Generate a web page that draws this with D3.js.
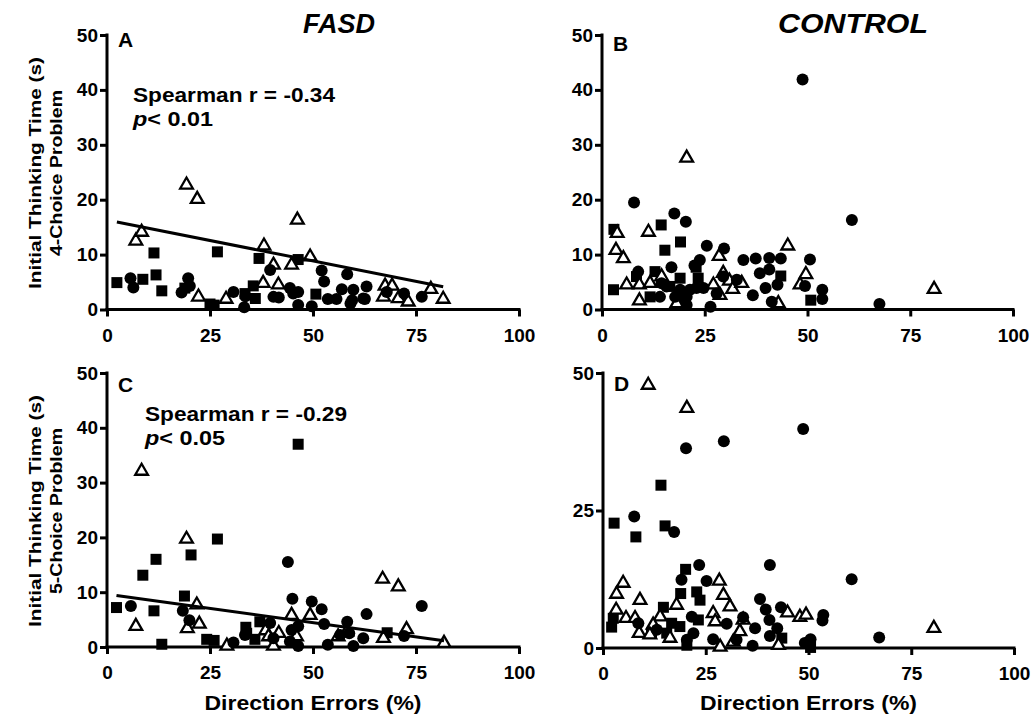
<!DOCTYPE html>
<html>
<head>
<meta charset="utf-8">
<script src="https://cdn.jsdelivr.net/npm/d3@7"></script>
<style>
  body { margin: 0; background: #fff; }
  svg text { font-family: "Liberation Sans", Arial, sans-serif; font-weight: bold; fill: #000; }
</style>
</head>
<body>
<svg id="chart" width="1033" height="719"></svg>
<script>
"use strict";

// ---- data: [direction errors %, thinking time s] ----
const aSquares = [[2.4,4.9],[8.7,5.5],[11.4,10.3],[11.9,6.3],[13.3,3.4],[26.8,10.5],[18.9,3.9],[25,1.0],[26,0.8],
  [33.5,2.9],[35.5,4.3],[36,2.0],[36.9,9.3],[46.4,9.1],[50.7,2.8]];
const aCircles = [[5.7,5.7],[6.4,4.0],[18.1,3.1],[19.7,5.7],[20.1,4.3],[30.7,3.2],[33.3,0.4],[33.6,2.4],[39.6,7.2],
  [40.4,2.3],[41.7,2.2],[44.4,3.9],[45.2,2.9],[46.4,3.2],[46.4,0.8],[49.7,0.6],[52.1,7.1],[52.7,5.1],[53.6,1.9],
  [55.7,1.9],[57,3.7],[58.3,6.4],[59.1,1.1],[59.8,3.6],[59.5,1.7],[62.2,2.0],[62.6,1.9],[63,4.2],[67.9,3.2],
  [72.1,2.9],[76.4,2.3]];
const aTriangles = [[19.3,22.7],[21.9,20.1],[7.0,12.5],[8.4,14.1],[46.2,16.3],[38.1,11.6],[40.4,8.1],[44.8,8.1],
  [49.3,9.6],[37.9,4.8],[41.6,4.5],[22.2,2.3],[28.9,1.9],[67.1,2.3],[67.5,4.3],[69.2,4.3],[70.7,2.0],[73.1,1.4],
  [78.6,3.7],[81.6,1.9]];

const bSquares = [[2.9,14.6],[14.4,15.4],[19.1,12.3],[15.3,10.8],[2.8,3.6],[12.9,6.9],[8.4,6.0],[19.0,5.7],[22.9,7.7],
  [23.4,5.7],[11.7,2.3],[43.5,6.1],[50.8,1.7],[16.5,4.2],[19.0,2.9],[20.2,1.4]];
const bCircles = [[48.8,41.9],[60.8,16.3],[7.8,19.5],[17.6,17.5],[20.4,16.0],[25.5,11.6],[29.7,11.1],[23.8,9.0],
  [34.4,9.0],[37.4,9.3],[40.7,9.4],[43.5,9.3],[50.6,9.1],[38.4,6.6],[40.7,7.3],[42.7,4.5],[39.8,3.9],[36.7,2.6],
  [41.3,1.4],[49.4,4.3],[53.6,3.6],[53.6,1.9],[67.5,1.0],[26.4,0.5],[8.8,6.9],[16.9,7.7],[22.5,8.0],[29.5,6.0],
  [32.8,5.4],[14.1,2.3],[15.7,4.2],[17.8,2.3],[19.0,3.6],[20.6,2.3],[21.4,3.6],[23.0,3.9],[24.7,3.9],[20.6,0.8],
  [14.5,4.8],[27.9,2.9]];
const bTriangles = [[20.6,27.6],[3.7,13.9],[11.3,14.1],[3.4,10.8],[5.2,9.3],[45.2,11.6],[28.5,9.7],[49.6,6.4],
  [48.2,4.5],[80.8,3.7],[6.0,4.5],[9.1,4.5],[11.7,4.8],[9.1,1.6],[27.1,4.5],[28.7,2.6],[29.5,6.6],[31.0,5.2],
  [31.8,3.7],[34.0,4.8],[42.9,1.1],[14.5,6.0],[18.2,1.1]];

const cSquares = [[46.4,37.0],[26.8,19.7],[20.4,16.8],[11.9,16.0],[8.7,13.1],[18.8,9.3],[2.3,7.2],[11.4,6.6],
  [13.3,0.5],[24.2,1.4],[26,1.2],[33.7,3.6],[35.9,1.4],[37.1,4.6],[33.9,2.5],[68.0,2.6]];
const cCircles = [[43.9,15.5],[5.8,7.5],[18.4,6.6],[20.0,4.9],[45.0,8.8],[49.7,8.3],[52.1,6.9],[63.0,6.0],[76.4,7.5],
  [58.3,4.6],[52.7,4.2],[39.6,4.4],[46.4,3.8],[44.8,3.1],[30.7,0.8],[33.5,2.2],[62.2,1.6],[72.1,2.0],[53.6,0.4],
  [59.8,0.2],[46.4,0.2],[58.8,2.5],[56.6,2.2],[44.4,1.0],[40.4,1.6]];
const cTriangles = [[8.4,32.1],[19.3,19.7],[7.0,3.8],[21.8,7.7],[22.4,4.2],[19.5,3.4],[66.9,12.4],[70.7,11.0],
  [44.8,5.8],[49.3,5.8],[67.1,1.6],[72.7,3.2],[81.8,0.7],[29.1,0.2],[38.5,3.0],[39.2,1.9],[41.7,2.5],[46.0,1.9],
  [40.4,0.2],[56.1,1.9],[58.2,2.8]];

const dSquares = [[14.1,29.6],[2.7,22.7],[15.1,22.2],[8.0,20.2],[20.1,14.3],[18.9,9.9],[22.8,10.2],[23.6,8.7],
  [14.7,7.4],[23.2,5.1],[2.5,5.4],[2.1,3.8],[16.7,4.5],[18.7,3.9],[11.8,2.7],[15.5,2.7],[20.4,0.5],[43.5,1.8],
  [50.5,0.1]];
const dCircles = [[48.7,39.8],[29.4,37.6],[20.2,36.3],[7.6,23.9],[17.3,21.1],[40.6,15.1],[23.4,15.1],[60.5,12.5],
  [19.1,12.4],[25.2,12.2],[38.2,8.9],[39.6,7.0],[43.3,7.4],[40.5,5.1],[42.4,3.6],[40.6,2.2],[37.0,3.6],[36.4,0.4],
  [34.1,5.6],[30.1,4.4],[26.8,1.6],[32.5,1.5],[53.6,6.0],[53.4,5.0],[50.5,1.6],[49.1,0.9],[67.2,1.9],[8.6,4.5],
  [21.6,5.7],[20.4,1.5],[22.0,2.7],[13.1,3.3]];
const dTriangles = [[11.0,47.8],[20.4,43.6],[4.9,11.8],[3.3,9.8],[9.0,8.7],[3.2,6.9],[5.6,5.4],[7.8,5.4],[8.8,2.7],
  [13.9,5.7],[17.9,7.8],[28.3,12.2],[29.3,9.6],[30.9,7.5],[26.8,6.3],[27.3,4.8],[33.3,3.0],[31.7,1.1],[28.5,0.2],
  [44.9,6.4],[47.9,5.6],[49.4,6.0],[80.5,3.6],[42.7,0.5],[12.2,4.2],[11.4,2.4],[16.3,1.8],[34.1,5.1]];

// fitted lines (intercept, slope) for the FASD panels
const fitA = [16.3, -0.149];
const fitC = [9.65, -0.104];

const xTicks = [0, 25, 50, 75, 100];
const yTicks10 = [0, 10, 20, 30, 40, 50];
const yTicks25 = [0, 25, 50];

const panels = [
  {letter: "A", x0: 107, x1: 519, yb: 309.5, yt: 35, ly: 47, sq: aSquares, ci: aCircles, tr: aTriangles, yTicks: yTicks10,
   fit: fitA, stat: ["Spearman r = -0.34", "0.01"], sx: 133, sy: 102},
  {letter: "B", x0: 602, x1: 1013, yb: 309.5, yt: 35, ly: 51, sq: bSquares, ci: bCircles, tr: bTriangles, yTicks: yTicks10},
  {letter: "C", x0: 107, x1: 519, yb: 647, yt: 373, ly: 392, sq: cSquares, ci: cCircles, tr: cTriangles, yTicks: yTicks10,
   fit: fitC, stat: ["Spearman r = -0.29", "0.05"], sx: 145, sy: 421, xlab: true},
  {letter: "D", x0: 603, x1: 1014, yb: 648, yt: 373, ly: 391, sq: dSquares, ci: dCircles, tr: dTriangles, yTicks: yTicks25,
   xlab: true}
];

const svg = d3.select("#chart");

// text stretched to the measured width (the source font is wide)
function label(sel, txt, size, len) {
  return sel.append("text").style("font-size", size + "px")
    .attr("textLength", len).attr("lengthAdjust", "spacingAndGlyphs").text(txt);
}

panels.forEach(p => {
  const x = d3.scaleLinear().domain([0, 100]).range([p.x0, p.x1]);
  const y = d3.scaleLinear().domain([0, 50]).range([p.yb, p.yt]);
  const g = svg.append("g");

  // axes
  const xa = g.append("g").attr("transform", `translate(0,${p.yb})`)
    .call(d3.axisBottom(x).tickValues(xTicks).tickSize(7).tickSizeOuter(0).tickPadding(12));
  const ya = g.append("g").attr("transform", `translate(${p.x0},0)`)
    .call(d3.axisLeft(y).tickValues(p.yTicks).tickSize(7).tickSizeOuter(0).tickPadding(2));
  [xa, ya].forEach(a => {
    a.select(".domain").attr("stroke-width", 3).attr("stroke", "#000");
    a.selectAll(".tick line").attr("stroke-width", 3).attr("stroke", "#000");
    a.selectAll(".tick text").style("font-size", "19px").style("font-family", "Liberation Sans, Arial, sans-serif")
      .style("font-weight", "bold").attr("fill", "#000");
  });
  xa.select(".domain").attr("d", `M${p.x0 - 1.5},0H${p.x1 + 1.5}`);
  ya.select(".domain").attr("d", `M0,${p.yb + 1.5}V${p.yt - 1.5}`);

  // points
  const sym = (type, size) => d3.symbol().type(type).size(size)();
  g.selectAll(".sq").data(p.sq).enter().append("path")
    .attr("d", sym(d3.symbolSquare, 121))
    .attr("transform", d => `translate(${x(d[0])},${y(d[1])})`).attr("fill", "#000");
  g.selectAll(".tr").data(p.tr).enter().append("path")
    .attr("d", sym(d3.symbolTriangle, 70))
    .attr("transform", d => `translate(${x(d[0])},${y(d[1])})`)
    .attr("fill", "#fff").attr("stroke", "#000").attr("stroke-width", 2.3);
  g.selectAll(".ci").data(p.ci).enter().append("circle")
    .attr("cx", d => x(d[0])).attr("cy", d => y(d[1])).attr("r", 6).attr("fill", "#000");

  // regression line and statistics
  if (p.fit) {
    const ext = d3.extent(p.sq.concat(p.ci, p.tr), d => d[0]);
    g.append("line")
      .attr("x1", x(ext[0])).attr("y1", y(p.fit[0] + p.fit[1] * ext[0]))
      .attr("x2", x(ext[1])).attr("y2", y(p.fit[0] + p.fit[1] * ext[1]))
      .attr("stroke", "#000").attr("stroke-width", 3);
    label(g, p.stat[0], 20, 202).attr("x", p.sx).attr("y", p.sy);
    const t2 = g.append("text").attr("x", p.sx).attr("y", p.sy + 24).style("font-size", "20px")
      .attr("textLength", 80).attr("lengthAdjust", "spacingAndGlyphs");
    t2.append("tspan").style("font-style", "italic").text("p");
    t2.append("tspan").text("< " + p.stat[1]);
  }

  // panel letter
  g.append("text").attr("x", p.x0 + 11).attr("y", p.ly).style("font-size", "21px").text(p.letter);

  // x label
  if (p.xlab) {
    label(g, "Direction Errors (%)", 21, 217).attr("x", (p.x0 + p.x1) / 2 - 108.5).attr("y", 710);
  }
});

// column titles
label(svg, "FASD", 27, 72).attr("x", 303).attr("y", 33).style("font-style", "italic");
label(svg, "CONTROL", 27, 150).attr("x", 778).attr("y", 33).style("font-style", "italic");

// y labels
[[173, "4-Choice Problem"], [511, "5-Choice Problem"]].forEach(([cy, sub]) => {
  label(svg, "Initial Thinking Time (s)", 16, 232)
    .attr("transform", `translate(41,${cy + 116}) rotate(-90)`);
  label(svg, sub, 16, 166)
    .attr("transform", `translate(62,${cy + 83}) rotate(-90)`);
});
</script>
</body>
</html>
